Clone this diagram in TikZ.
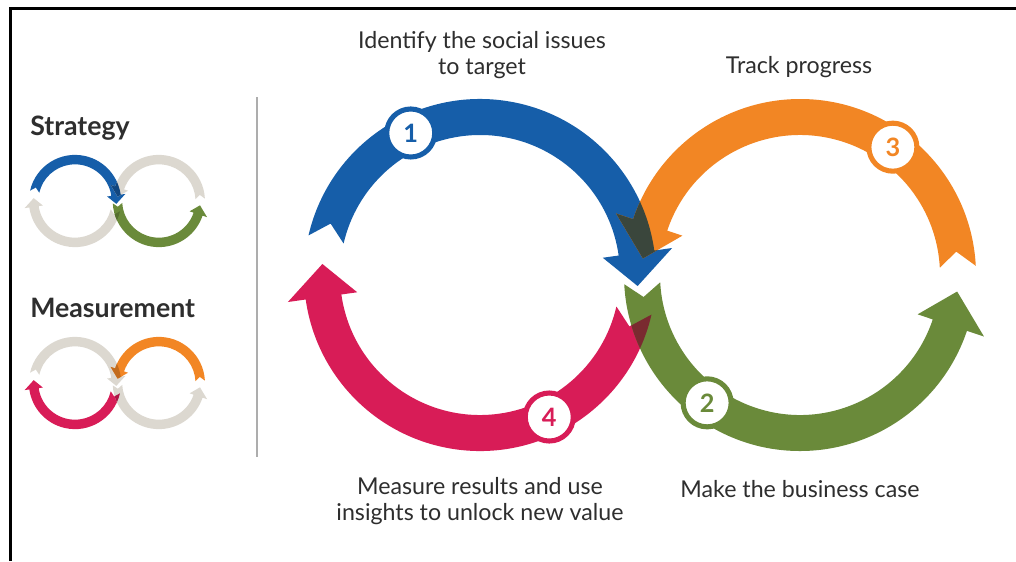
\documentclass[tikz,border=0pt]{standalone}
\usepackage{fontspec}
\setmainfont{Lato}

\definecolor{stratblue}{HTML}{165EA9}
\definecolor{trackorange}{HTML}{F28624}
\definecolor{casegreen}{HTML}{6A8A3A}
\definecolor{measurepink}{HTML}{D81C57}
\definecolor{idlegray}{HTML}{DCD8D0}
\definecolor{mixbo}{HTML}{3A463C}
\definecolor{mixpg}{HTML}{7A2A30}
\definecolor{textgray}{HTML}{2E2E2E}

% ring geometry, in pixel units
\newcommand\ringout{176}
\newcommand\ringin{140}
\newcommand\ringmid{158}
\newcommand\headout{194}
\newcommand\headin{124}

% #1 centre, #2 tail, #3 notch, #4 head base, #5 tip
\newcommand\ringpath[5]{%
  ([shift={#1}]#2:\ringout) arc[start angle=#2, end angle=#4, radius=\ringout]
  -- ([shift={#1}]#4:\headout) -- ([shift={#1}]#5:\ringmid)
  -- ([shift={#1}]#4:\headin) -- ([shift={#1}]#4:\ringin)
  arc[start angle=#4, end angle=#2, radius=\ringin]
  -- ([shift={#1}]#3:\ringmid) -- cycle}

\newcommand\bluepath{\ringpath{(480,-275)}{167}{161}{8}{-4}}
\newcommand\pinkpath{\ringpath{(480,-275)}{-13}{-19}{-172}{-184}}
\newcommand\orangepath{\ringpath{(800,-275)}{3}{8.5}{161.5}{174}}
\newcommand\greenpath{\ringpath{(800,-275)}{-177}{-172}{-18.5}{-6}}

% blue, pink, orange, green, blue/orange overlap, pink/green overlap
\newcommand\loopset[6]{%
  \fill[#1] \bluepath;
  \fill[#2] \pinkpath;
  \fill[#3] \orangepath;
  \fill[#4] \greenpath;
  \begin{scope}
    \clip \bluepath;
    \fill[#5] \orangepath;
  \end{scope}
  \begin{scope}
    \clip \pinkpath;
    \fill[#6] \greenpath;
  \end{scope}}

\tikzset{
  badge/.style={circle, fill=white, draw=#1, text=#1, line width=3.6pt,
    minimum size=1.2cm, inner sep=0pt, font=\bfseries\fontsize{18}{18}\selectfont},
  caption/.style={align=center, text=textgray, inner sep=0pt,
    font=\fontsize{16.5}{18}\selectfont},
  heading/.style={anchor=base west, text=textgray, inner sep=0pt,
    font=\bfseries\fontsize{19}{21}\selectfont}
}

\begin{document}
\begin{tikzpicture}[x=0.025cm, y=0.025cm]
  \useasboundingbox (0,0) rectangle (1016,-561);
  \fill[white] (0,0) rectangle (1016,-561);
  \draw[line width=2.1pt] (10.5,-561) -- (10.5,-8.5) -- (1016,-8.5);
  \draw[line width=1.4pt, color=black!32] (257,-97) -- (257,-457);

  \node[heading] (strategy) at (30,-135) {Strategy};
  \node[heading] (measurement) at (30,-317) {Measurement};

  \begin{scope}[shift={(75,-201)}, scale=0.262, shift={(-480,275)}]
    \loopset{stratblue}{idlegray}{idlegray}{casegreen}{stratblue!75!black}{casegreen!80!black}
  \end{scope}
  \begin{scope}[shift={(75,-383)}, scale=0.262, shift={(-480,275)}]
    \loopset{idlegray}{measurepink}{trackorange}{idlegray}{trackorange!80!black}{measurepink!80!black}
  \end{scope}

  \loopset{stratblue}{measurepink}{trackorange}{casegreen}{mixbo}{mixpg}

  \node[badge=stratblue] (one) at ([shift={(480,-275)}]116:158) {1};
  \node[badge=casegreen] (two) at ([shift={(800,-275)}]-126:158) {2};
  \node[badge=trackorange] (three) at ([shift={(800,-275)}]54:158) {3};
  \node[badge=measurepink] (four) at ([shift={(480,-275)}]-64:158) {4};

  \node[caption] (identify) at (482,-55) {Identify the social issues\\to target};
  \node[caption] (track) at (799,-67) {Track progress};
  \node[caption] (measure) at (480,-501) {Measure results and use\\insights to unlock new value};
  \node[caption] (business) at (800,-489) {Make the business case};
\end{tikzpicture}
\end{document}
